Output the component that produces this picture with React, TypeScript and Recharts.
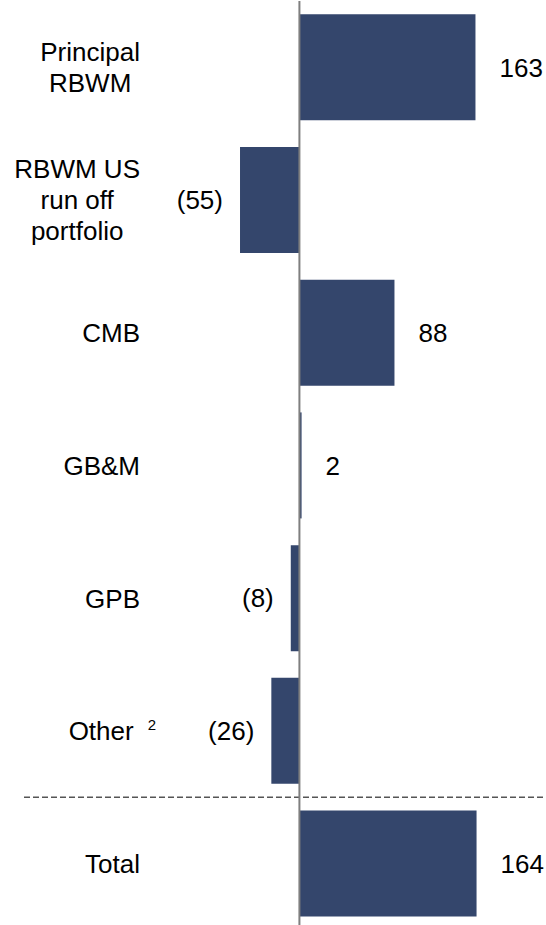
import React from "react";
import {
    BarChart,
    Bar,
    XAxis,
    YAxis,
    ReferenceLine,
    LabelList,
} from "recharts";

// line breaks in the category names are kept as "\n"
const categories = [
    "Principal\nRBWM",
    "RBWM US\nrun off\nportfolio",
    "CMB",
    "GB&M",
    "GPB",
    "Other",
    "Total",
];

const values = [163, -55, 88, 2, -8, -26, 164];

const footnotes: Record<string, string> = { Other: "2" };

const data = categories.map((category, i) => ({ category, value: values[i] }));

const FONT = '"Liberation Sans", Arial, sans-serif';
const FONT_SIZE = 26;
const LABEL_RIGHT = 140;
const LINE_HEIGHT = 31;
const BAR_COLOR = "#34466C";

let ctx: CanvasRenderingContext2D | null = null;
function textWidth(text: string, size: number): number {
    if (!ctx && typeof document !== "undefined") {
        ctx = document.createElement("canvas").getContext("2d");
    }
    if (!ctx) return text.length * size * 0.55;
    ctx.font = `${size}px "Liberation Sans"`;
    return ctx.measureText(text).width;
}

function CategoryTick({ y, payload }: { y?: number; payload?: { value: string } }) {
    const label = String(payload?.value ?? "");
    const cy = Number(y);
    const lines = label.split("\n");
    const note = footnotes[label];

    if (note) {
        return (
            <text x={LABEL_RIGHT + 16} y={cy} dy="0.36em" textAnchor="end" fontFamily={FONT} fontSize={FONT_SIZE} fill="#000">
                <tspan>{label}</tspan>
                <tspan dx={14} dy={-10} fontSize={15}>{note}</tspan>
            </text>
        );
    }

    if (lines.length === 1) {
        return (
            <text x={LABEL_RIGHT} y={cy} dy="0.36em" textAnchor="end" fontFamily={FONT} fontSize={FONT_SIZE} fill="#000">
                {label}
            </text>
        );
    }

    const w = Math.max(...lines.map((l) => textWidth(l, FONT_SIZE)));
    const cx = LABEL_RIGHT - w / 2;
    return (
        <g>
            {lines.map((l, i) => (
                <text
                    key={i}
                    x={cx}
                    y={cy + (i - (lines.length - 1) / 2) * LINE_HEIGHT}
                    dy="0.36em"
                    textAnchor="middle"
                    fontFamily={FONT}
                    fontSize={FONT_SIZE}
                    fill="#000"
                >
                    {l}
                </text>
            ))}
        </g>
    );
}

function ValueLabel(props: any) {
    const x = Number(props.x);
    const y = Number(props.y);
    const width = Number(props.width);
    const height = Number(props.height);
    const value = Number(props.value);
    const left = Math.min(x, x + width);
    const right = Math.max(x, x + width);
    const neg = value < 0;
    return (
        <text
            x={neg ? left - 17 : right + 24}
            y={y + height / 2}
            dy="0.36em"
            textAnchor={neg ? "end" : "start"}
            fontFamily={FONT}
            fontSize={FONT_SIZE}
            fill="#000"
        >
            {neg ? `(${Math.abs(value)})` : value}
        </text>
    );
}

export default function App() {
    return (
        <div style={{ position: "absolute", top: 0, left: 0, width: 546, height: 925, overflow: "hidden", background: "#fff" }}>
            <BarChart
                width={546}
                height={930}
                data={data}
                layout="vertical"
                margin={{ top: 1, right: 0, bottom: 0, left: 0 }}
                barCategoryGap="10%"
            >
                <XAxis type="number" domain={[-255, 228.3]} hide allowDataOverflow />
                <YAxis
                    dataKey="category"
                    type="category"
                    width={24}
                    axisLine={false}
                    tickLine={false}
                    interval={0}
                    tick={<CategoryTick />}
                />
                <Bar dataKey="value" fill={BAR_COLOR} isAnimationActive={false}>
                    <LabelList dataKey="value" content={<ValueLabel />} />
                </Bar>
                <ReferenceLine
                    y="Total"
                    position="start"
                    stroke="#555"
                    strokeWidth={1.5}
                    strokeDasharray="6 3"
                />
                <ReferenceLine x={0} stroke="#7f7f7f" strokeWidth={2} />
            </BarChart>
        </div>
    );
}
